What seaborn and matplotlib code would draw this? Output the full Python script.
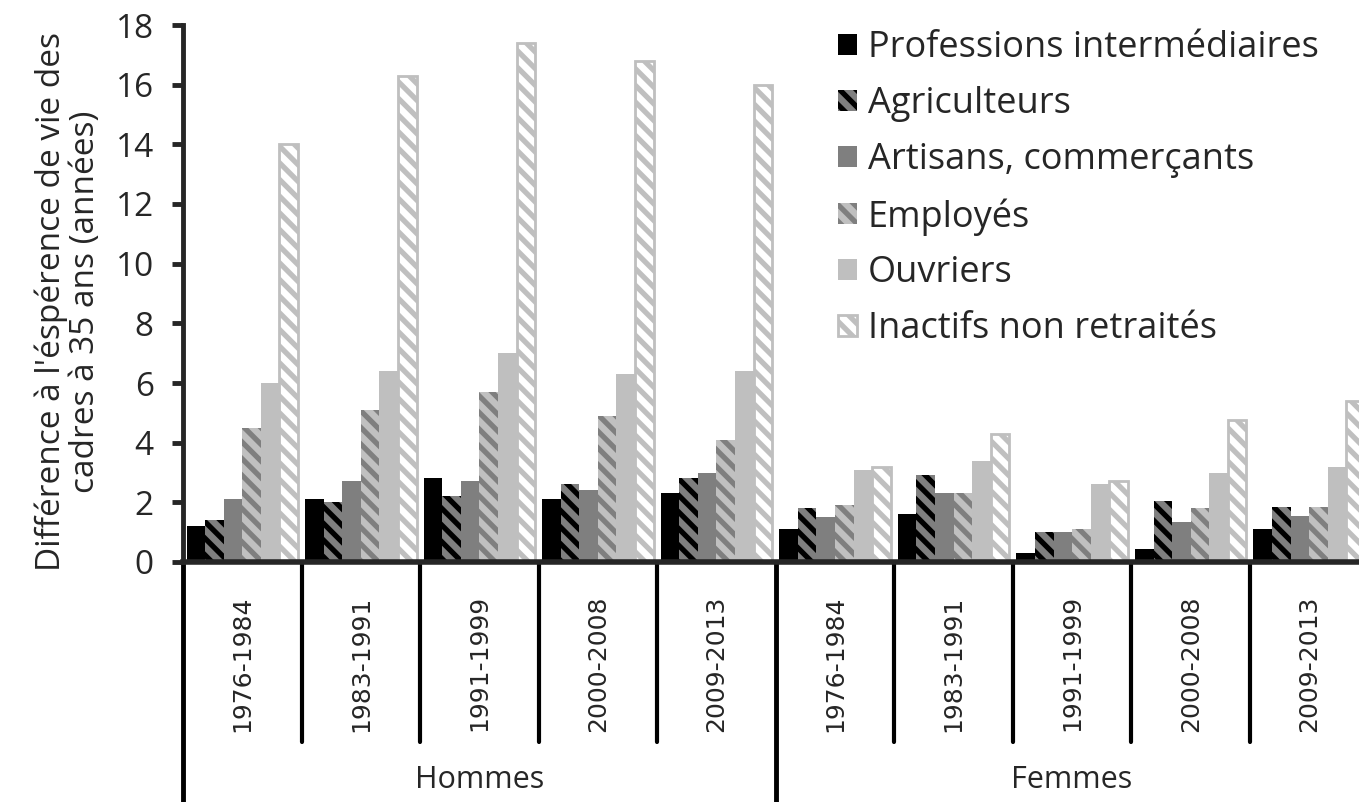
import pandas as pd
import matplotlib.pyplot as plt
import matplotlib.transforms as mtransforms
import seaborn as sns

# donnees
periodes = ['1976-1984', '1983-1991', '1991-1999', '2000-2008', '2009-2013']
sexes = ['Hommes', 'Femmes']
professions = ['Professions intermédiaires', 'Agriculteurs', 'Artisans, commerçants',
               'Employés', 'Ouvriers', 'Inactifs non retraités']

# 5 periodes hommes puis 5 periodes femmes
prof_inter = [1.2, 2.1, 2.8, 2.1, 2.3, 1.1, 1.6, 0.3, 0.45, 1.1]
agriculteurs = [1.4, 2.0, 2.2, 2.6, 2.8, 1.8, 2.9, 1.0, 2.05, 1.85]
artisans = [2.1, 2.7, 2.7, 2.4, 3.0, 1.5, 2.3, 1.0, 1.35, 1.55]
employes = [4.5, 5.1, 5.7, 4.9, 4.1, 1.9, 2.3, 1.1, 1.8, 1.85]
ouvriers = [6.0, 6.4, 7.0, 6.3, 6.4, 3.1, 3.4, 2.6, 3.0, 3.2]
inactifs = [14.0, 16.3, 17.4, 16.8, 16.0, 3.2, 4.3, 2.7, 4.75, 5.4]

groupes = [s + ' ' + p for s in sexes for p in periodes]
series = [prof_inter, agriculteurs, artisans, employes, ouvriers, inactifs]

lignes = []
for prof, vals in zip(professions, series):
    for g, v in zip(groupes, vals):
        lignes.append({'groupe': g, 'profession': prof, 'valeur': v})
df = pd.DataFrame(lignes)

sns.set_style('white')
plt.rcParams['font.family'] = ['Open Sans', 'DejaVu Sans']
plt.rcParams['hatch.linewidth'] = 3.8

# style de chaque serie : (face, couleur hachure/bord, hachure, epaisseur bord)
styles = [
    ('#000000', '#000000', None, 0),
    ('#7f7f7f', '#000000', '\\\\', 0),
    ('#7f7f7f', '#7f7f7f', None, 0),
    ('#c0c0c0', '#7f7f7f', '\\\\', 0),
    ('#bfbfbf', '#bfbfbf', None, 0),
    ('#ffffff', '#bfbfbf', '\\\\', 2.0),
]

fig = plt.figure(figsize=(13.59, 8.02), dpi=100)
ax = fig.add_axes([183 / 1359, 1 - 562 / 802, 1 - 183 / 1359, 537 / 802])

sns.barplot(data=df, x='groupe', y='valeur', hue='profession', order=groupes,
            hue_order=professions, palette=[s[0] for s in styles], saturation=1,
            width=0.94, errorbar=None, legend=False, ax=ax)

for cont, (fc, ec, hatch, lw) in zip(ax.containers, styles):
    for p in cont.patches:
        p.set_facecolor(fc)
        p.set_edgecolor(ec)
        p.set_hatch(hatch)
        p.set_linewidth(lw)

ax.set_ylim(0, 18)
ax.set_yticks(range(0, 19, 2))
ax.set_xlim(-0.5, 9.42)
ax.tick_params(axis='y', labelsize=24, length=8, width=3.5, pad=13, direction='out', left=True)
ax.set_xticks(range(10))
ax.set_xticklabels(periodes * 2, rotation=90, fontsize=18, family='DejaVu Sans')
ax.tick_params(axis='x', length=0, pad=24)
for lab in ax.get_xticklabels():
    lab.set_va('top')

sns.despine(ax=ax, top=True, right=True)
ax.spines['left'].set_linewidth(3.5)
ax.spines['bottom'].set_linewidth(4)
ax.set_xlabel('')
ax.set_ylabel("Différence à l'éspérence de vie des\ncadres à 35 ans (années)",
              fontsize=24, va='center', linespacing=1.05)
ax.yaxis.set_label_coords(-0.0975, 0.485)

# lignes de separation sous l'axe
trans = mtransforms.blended_transform_factory(ax.transData, ax.transAxes)
for k in range(9):
    if k == 4:
        continue
    ax.plot([k + 0.5, k + 0.5], [0, -0.335], color='black', lw=3, transform=trans, clip_on=False)
for xs in [-0.5, 4.5]:
    ax.plot([xs, xs], [0, -0.5], color='black', lw=3.5, transform=trans, clip_on=False)

ax.text(2, -0.406, 'Hommes', fontsize=22, ha='center', va='center', transform=trans)
ax.text(7, -0.406, 'Femmes', fontsize=22, ha='center', va='center', transform=trans)

ax.legend(handles=ax.containers, labels=professions, loc='upper left',
          bbox_to_anchor=(838 / 1359, 0.962), bbox_transform=fig.transFigure,
          frameon=False, fontsize=26, handlelength=0.52, handleheight=0.52,
          handletextpad=0.3, labelspacing=0.55, borderpad=0, borderaxespad=0)

fig.savefig('out.png', dpi=100)
